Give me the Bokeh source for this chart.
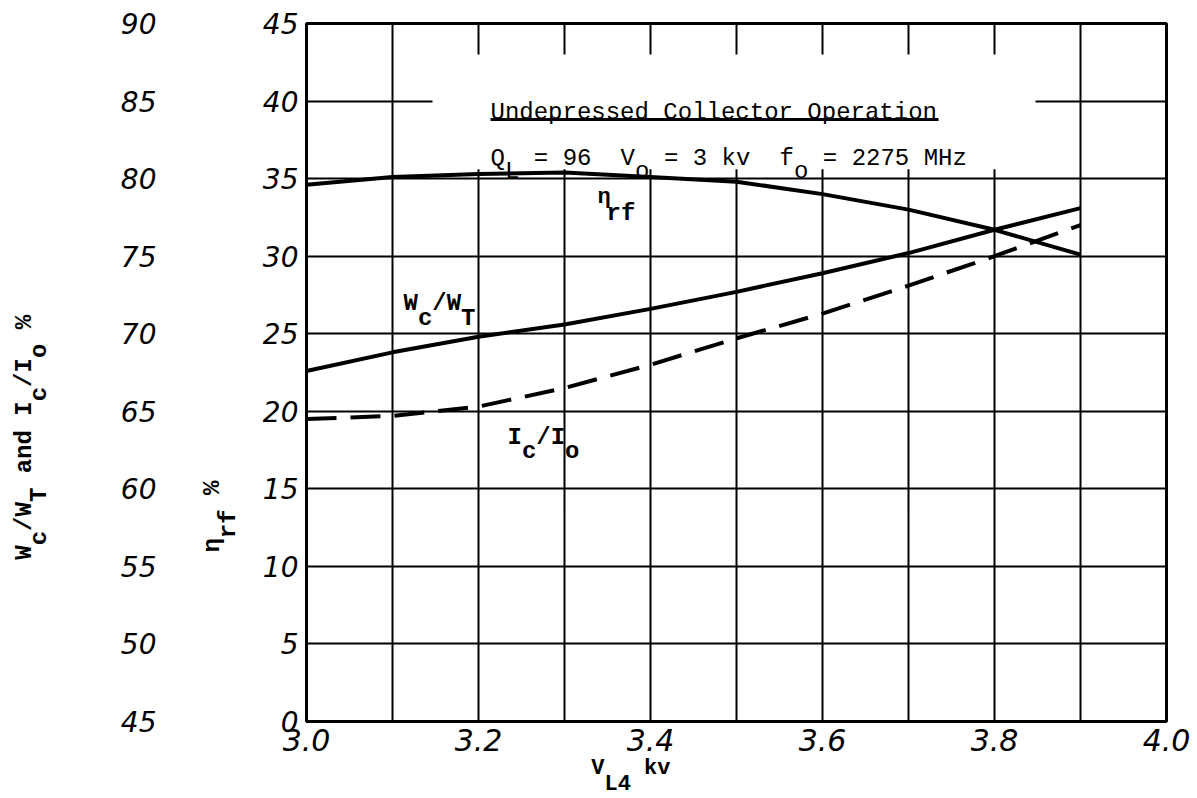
from math import pi
from bokeh.plotting import figure
from bokeh.models import Range1d, LinearAxis, FixedTicker, Label, BoxAnnotation, Arrow
from bokeh.embed import file_html
from bokeh.resources import INLINE

# ---------------- data ----------------
v_l4 = [3.0, 3.1, 3.2, 3.3, 3.4, 3.5, 3.6, 3.7, 3.8, 3.9]
eta_rf = [34.6, 35.1, 35.3, 35.4, 35.1, 34.8, 34.0, 33.0, 31.7, 30.1]      # %, inner scale
wc_wt = [67.6, 68.8, 69.8, 70.6, 71.6, 72.7, 73.9, 75.2, 76.7, 78.1]       # %, outer scale
ic_io = [64.5, 64.7, 65.3, 66.5, 68.0, 69.7, 71.3, 73.1, 75.0, 77.0]       # %, outer scale

x_ticks = [3.0, 3.2, 3.4, 3.6, 3.8, 4.0]
x_tick_labels = ["3.0", "3.2", "3.4", "3.6", "3.8", "4.0"]
x_grid = [3.0, 3.1, 3.2, 3.3, 3.4, 3.5, 3.6, 3.7, 3.8, 3.9, 4.0]
eta_ticks = [0, 5, 10, 15, 20, 25, 30, 35, 40, 45]
pct_ticks = [45, 50, 55, 60, 65, 70, 75, 80, 85, 90]

MONO = "Liberation Mono"
HAND = "DejaVu Sans"
NB = "\u00a0"


def typed(main, subs, width):
    """Two typewriter lines: main text and half-line-lower subscripts,
    padded with no-break spaces to the same width so they stay aligned."""
    line1 = list(NB * width)
    line2 = list(NB * width)
    for t, i in main:
        for k, ch in enumerate(t):
            line1[i + k] = NB if ch == " " else ch
    for t, i in subs:
        for k, ch in enumerate(t):
            line2[i + k] = ch
    return "".join(line1) + "\n" + "".join(line2)


p = figure(width=1196, height=798,
           frame_width=860, frame_height=698,
           x_range=Range1d(3.0, 4.0), y_range=Range1d(0, 45),
           output_backend="svg", toolbar_location=None,
           min_border_left=306, min_border_right=30,
           min_border_top=23, min_border_bottom=77,
           background_fill_color="white", border_fill_color="white")
p.extra_y_ranges = {"pct": Range1d(45, 90)}

p.outline_line_color = "black"
p.outline_line_width = 3

# grids
p.xgrid.ticker = FixedTicker(ticks=x_grid)
p.ygrid.ticker = FixedTicker(ticks=eta_ticks)
for g in (p.xgrid[0], p.ygrid[0]):
    g.grid_line_color = "black"
    g.grid_line_width = 2
    g.grid_line_alpha = 1.0

# axes
xa = p.xaxis[0]
xa.ticker = FixedTicker(ticks=x_ticks)
xa.major_label_overrides = dict(zip(x_ticks, x_tick_labels))
xa.major_label_text_font_size = "30px"
xa.major_label_standoff = 7
xa.axis_label = typed([("V", 0), ("kv", 4)], [("L4", 1)], 22)
xa.axis_label_text_font_size = "22px"
xa.axis_label_text_line_height = 0.64
xa.axis_label_standoff = 2

ya = p.yaxis[0]
ya.ticker = FixedTicker(ticks=eta_ticks)
ya.major_label_text_font_size = "28px"
ya.major_label_standoff = 8
ya.axis_label = typed([("η", 0), ("%", 4)], [("rf", 1)], 25)
ya.axis_label_text_font_size = "24px"
ya.axis_label_text_line_height = 0.6
ya.axis_label_standoff = 18

ya2 = LinearAxis(y_range_name="pct", ticker=FixedTicker(ticks=pct_ticks))
ya2.major_label_text_font_size = "28px"
ya2.major_label_standoff = 39
ya2.axis_label = typed([("W", 0), ("/W", 2), ("and", 6), ("I", 10), ("/I", 12), ("%", 16)],
                       [("c", 1), ("T", 4), ("c", 11), ("o", 14)], 26)
ya2.axis_label_text_font_size = "24px"
ya2.axis_label_text_line_height = 0.55
ya2.axis_label_standoff = 65
p.add_layout(ya2, "left")

for ax in (xa, ya, ya2):
    ax.axis_line_color = None
    ax.major_tick_line_color = None
    ax.minor_tick_line_color = None
    ax.major_tick_in = 0
    ax.major_tick_out = 0
    ax.minor_tick_in = 0
    ax.minor_tick_out = 0
    ax.major_label_text_font = HAND
    ax.major_label_text_font_style = "italic"
    ax.major_label_text_color = "black"
    ax.axis_label_text_font = MONO
    ax.axis_label_text_font_style = "bold"
    ax.axis_label_text_color = "black"


# helpers to place in-frame annotations by picture position
def dx(px):
    return 3.0 + (px - 306) / 860.0


def dy(py):
    return (721 - py) * 45.0 / 698.0


# blank area behind the title (the grid is interrupted there)
p.add_layout(BoxAnnotation(left=dx(432), right=dx(1035), bottom=35.6, top=43.0,
                           fill_color="white", fill_alpha=1.0, line_alpha=0.0,
                           level="underlay"))

# curves
p.line(v_l4, eta_rf, line_color="black", line_width=4)
p.line(v_l4, wc_wt, y_range_name="pct", line_color="black", line_width=4)
p.line(v_l4, ic_io, y_range_name="pct", line_color="black", line_width=4,
       line_dash="30 14")


# ---------------- texts inside the frame ----------------
def lab(text, px, py, size="24px", bold=False):
    p.add_layout(Label(x=dx(px), y=dy(py), text=text, text_font=MONO,
                       text_font_size=size, text_color="black",
                       text_font_style="bold" if bold else "normal",
                       text_align="left", text_baseline="alphabetic"))


lab("Undepressed Collector Operation", 490, 112)
p.add_layout(Arrow(start=None, end=None, x_start=dx(490), y_start=dy(119),
                   x_end=dx(938), y_end=dy(119), line_width=3, line_color="black"))

adv = 14.45
x0 = 490
for t, i in [("Q", 0), ("= 96", 3), ("V", 9), ("= 3 kv", 12), ("f", 20), ("= 2275 MHz", 23)]:
    lab(t, x0 + i * adv, 158)
for t, i in [("L", 1), ("o", 10), ("o", 21)]:
    lab(t, x0 + i * adv, 171)

# curve labels
lab("η", 597, 197, size="22px", bold=True)
lab("rf", 606, 213, bold=True)

for t, i in [("W", 0), ("/W", 2)]:
    lab(t, 403 + i * 14.4, 303, bold=True)
for t, i in [("c", 1), ("T", 4)]:
    lab(t, 403 + i * 14.4, 318, bold=True)

for t, i in [("I", 0), ("/I", 2)]:
    lab(t, 507 + i * 14.4, 437, bold=True)
for t, i in [("c", 1), ("o", 4)]:
    lab(t, 507 + i * 14.4, 451, bold=True)

open("out.html", "w").write(file_html(p, INLINE))
